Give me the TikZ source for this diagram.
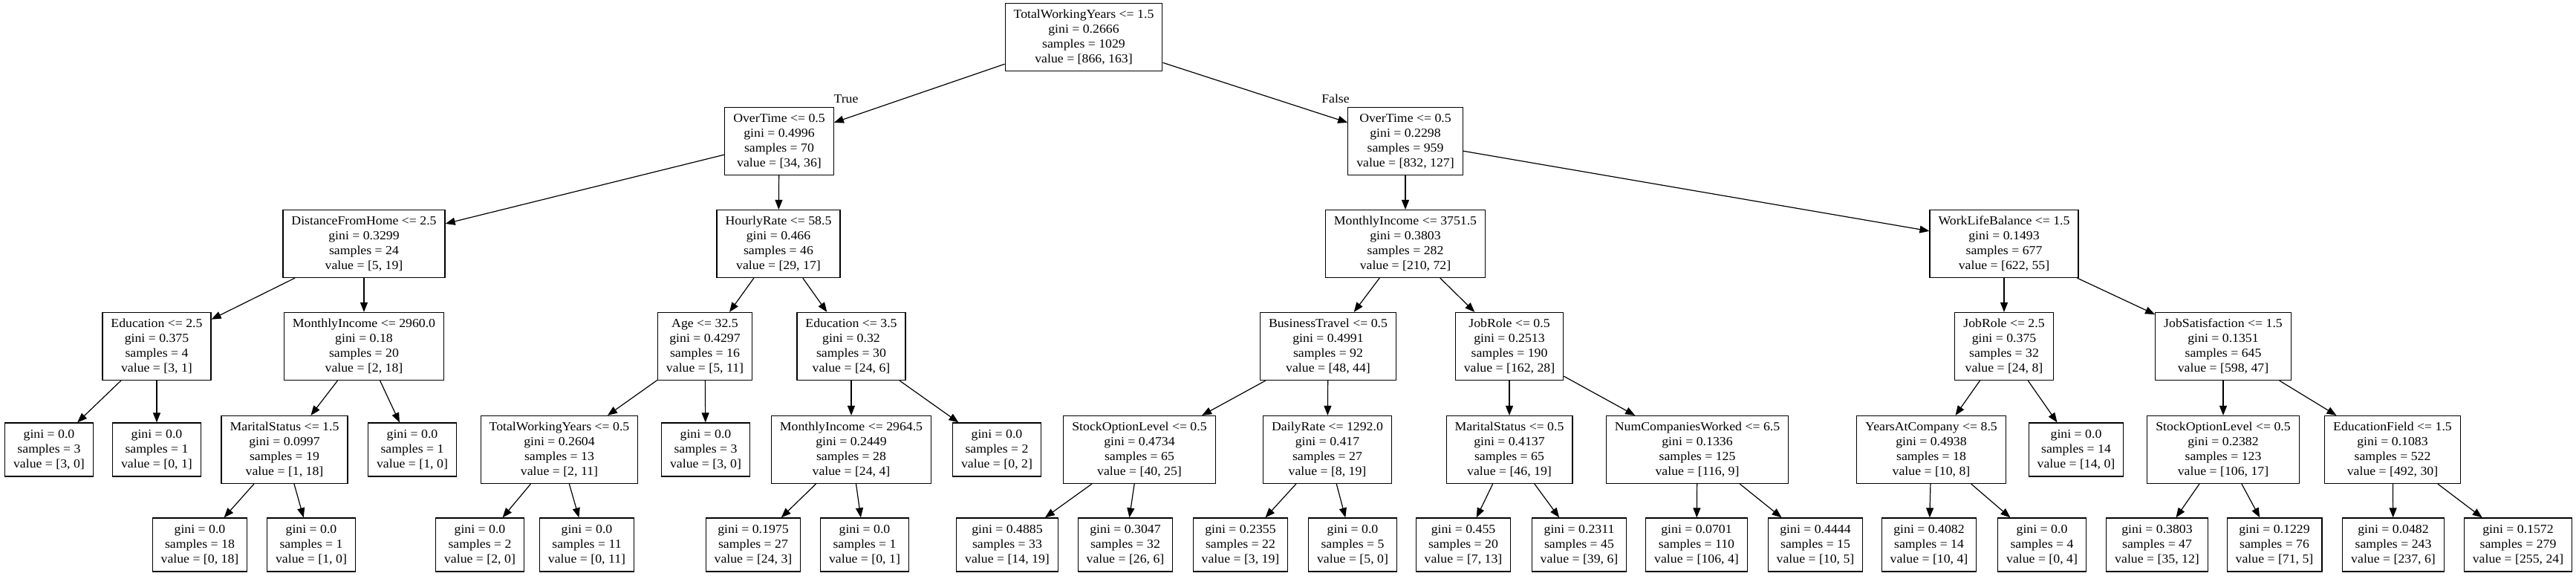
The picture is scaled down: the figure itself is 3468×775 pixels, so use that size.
\documentclass[tikz,border=0pt]{standalone}
\usepackage{fontspec}
\setmainfont[FakeStretch=1.07]{Liberation Serif}
\usetikzlibrary{arrows.meta}

\begin{document}
\begin{tikzpicture}[x=1pt,y=-1pt,>={Triangle[length=13pt,width=10pt]},
 font=\fontsize{16.6}{20}\selectfont,
 split/.style={draw,line width=1.2pt,align=center,inner xsep=11.5pt,minimum height=91pt},
 leaf/.style={split,minimum height=72pt},
 edge/.style={->,line width=1.2pt}]
 \useasboundingbox (0,0) rectangle (3468,775);
 % root and level 1
 \node[split] (root) at (1459,50) {TotalWorkingYears <= 1.5\\gini = 0.2666\\samples = 1029\\value = [866, 163]};
 \node[split] (ot1) at (1049,190) {OverTime <= 0.5\\gini = 0.4996\\samples = 70\\value = [34, 36]};
 \node[split] (ot2) at (1892,190) {OverTime <= 0.5\\gini = 0.2298\\samples = 959\\value = [832, 127]};
 \node (tlab) at (1139,133) {True};
 \node (flab) at (1798,133) {False};
 % level 2
 \node[split] (dist) at (490,328) {DistanceFromHome <= 2.5\\gini = 0.3299\\samples = 24\\value = [5, 19]};
 \node[split] (hrate) at (1048,328) {HourlyRate <= 58.5\\gini = 0.466\\samples = 46\\value = [29, 17]};
 \node[split] (minc1) at (1892,328) {MonthlyIncome <= 3751.5\\gini = 0.3803\\samples = 282\\value = [210, 72]};
 \node[split] (wlb) at (2698,328) {WorkLifeBalance <= 1.5\\gini = 0.1493\\samples = 677\\value = [622, 55]};
 % level 3
 \node[split] (edu1) at (211,466) {Education <= 2.5\\gini = 0.375\\samples = 4\\value = [3, 1]};
 \node[split] (minc2) at (490,466) {MonthlyIncome <= 2960.0\\gini = 0.18\\samples = 20\\value = [2, 18]};
 \node[split] (age) at (949,466) {Age <= 32.5\\gini = 0.4297\\samples = 16\\value = [5, 11]};
 \node[split] (edu2) at (1146,466) {Education <= 3.5\\gini = 0.32\\samples = 30\\value = [24, 6]};
 \node[split] (btrav) at (1788,466) {BusinessTravel <= 0.5\\gini = 0.4991\\samples = 92\\value = [48, 44]};
 \node[split] (jrole1) at (2032,466) {JobRole <= 0.5\\gini = 0.2513\\samples = 190\\value = [162, 28]};
 \node[split] (jrole2) at (2698,466) {JobRole <= 2.5\\gini = 0.375\\samples = 32\\value = [24, 8]};
 \node[split] (jsat) at (2993,466) {JobSatisfaction <= 1.5\\gini = 0.1351\\samples = 645\\value = [598, 47]};
 % level 4
 \node[split] (mar1) at (383,605) {MaritalStatus <= 1.5\\gini = 0.0997\\samples = 19\\value = [1, 18]};
 \node[split] (twy) at (753,605) {TotalWorkingYears <= 0.5\\gini = 0.2604\\samples = 13\\value = [2, 11]};
 \node[split] (minc3) at (1146,605) {MonthlyIncome <= 2964.5\\gini = 0.2449\\samples = 28\\value = [24, 4]};
 \node[split] (stock1) at (1534,605) {StockOptionLevel <= 0.5\\gini = 0.4734\\samples = 65\\value = [40, 25]};
 \node[split] (daily) at (1787,605) {DailyRate <= 1292.0\\gini = 0.417\\samples = 27\\value = [8, 19]};
 \node[split] (mar2) at (2032,605) {MaritalStatus <= 0.5\\gini = 0.4137\\samples = 65\\value = [46, 19]};
 \node[split] (ncomp) at (2285,605) {NumCompaniesWorked <= 6.5\\gini = 0.1336\\samples = 125\\value = [116, 9]};
 \node[split] (yac) at (2600,605) {YearsAtCompany <= 8.5\\gini = 0.4938\\samples = 18\\value = [10, 8]};
 \node[split] (stock2) at (2993,605) {StockOptionLevel <= 0.5\\gini = 0.2382\\samples = 123\\value = [106, 17]};
 \node[split] (efield) at (3221,605) {EducationField <= 1.5\\gini = 0.1083\\samples = 522\\value = [492, 30]};
 % leaves
 \foreach \n/\x/\y/\g/\s/\v in {la/66/605/0.0/3/{3, 0}, lb/211/605/0.0/1/{0, 1}, lc/555/605/0.0/1/{1, 0},
   ld/950/605/0.0/3/{3, 0}, le/1342/605/0.0/2/{0, 2}, lf/2795/605/0.0/14/{14, 0},
   l1/269/733/0.0/18/{0, 18}, l2/419/733/0.0/1/{1, 0}, l3/646/733/0.0/2/{2, 0}, l4/790/733/0.0/11/{0, 11},
   l5/1014/733/0.1975/27/{24, 3}, l6/1164/733/0.0/1/{0, 1}, l7/1356/733/0.4885/33/{14, 19}, l8/1515/733/0.3047/32/{26, 6},
   l9/1670/733/0.2355/22/{3, 19}, l10/1821/733/0.0/5/{5, 0}, l11/1970/733/0.455/20/{7, 13}, l12/2126/733/0.2311/45/{39, 6},
   l13/2284/733/0.0701/110/{106, 4}, l14/2444/733/0.4444/15/{10, 5}, l15/2597/733/0.4082/14/{10, 4}, l16/2749/733/0.0/4/{0, 4},
   l17/2904/733/0.3803/47/{35, 12}, l18/3062/733/0.1229/76/{71, 5}, l19/3222/733/0.0482/243/{237, 6}, l20/3390/733/0.1572/279/{255, 24}}
   {\node[leaf] (\n) at (\x,\y) {gini = \g\\samples = \s\\value = [\v]};}
 % edges
 \foreach \a/\b in {root/ot1, root/ot2, ot1/dist, ot1/hrate, ot2/minc1, ot2/wlb,
   dist/edu1, dist/minc2, hrate/age, hrate/edu2, minc1/btrav, minc1/jrole1, wlb/jrole2, wlb/jsat,
   edu1/la, edu1/lb, minc2/mar1, minc2/lc, age/twy, age/ld, edu2/minc3, edu2/le,
   btrav/stock1, btrav/daily, jrole1/mar2, jrole1/ncomp, jrole2/yac, jrole2/lf, jsat/stock2, jsat/efield,
   mar1/l1, mar1/l2, twy/l3, twy/l4, minc3/l5, minc3/l6, stock1/l7, stock1/l8, daily/l9, daily/l10,
   mar2/l11, mar2/l12, ncomp/l13, ncomp/l14, yac/l15, yac/l16, stock2/l17, stock2/l18, efield/l19, efield/l20}
   \draw[edge] (\a) -- (\b);
\end{tikzpicture}
\end{document}
